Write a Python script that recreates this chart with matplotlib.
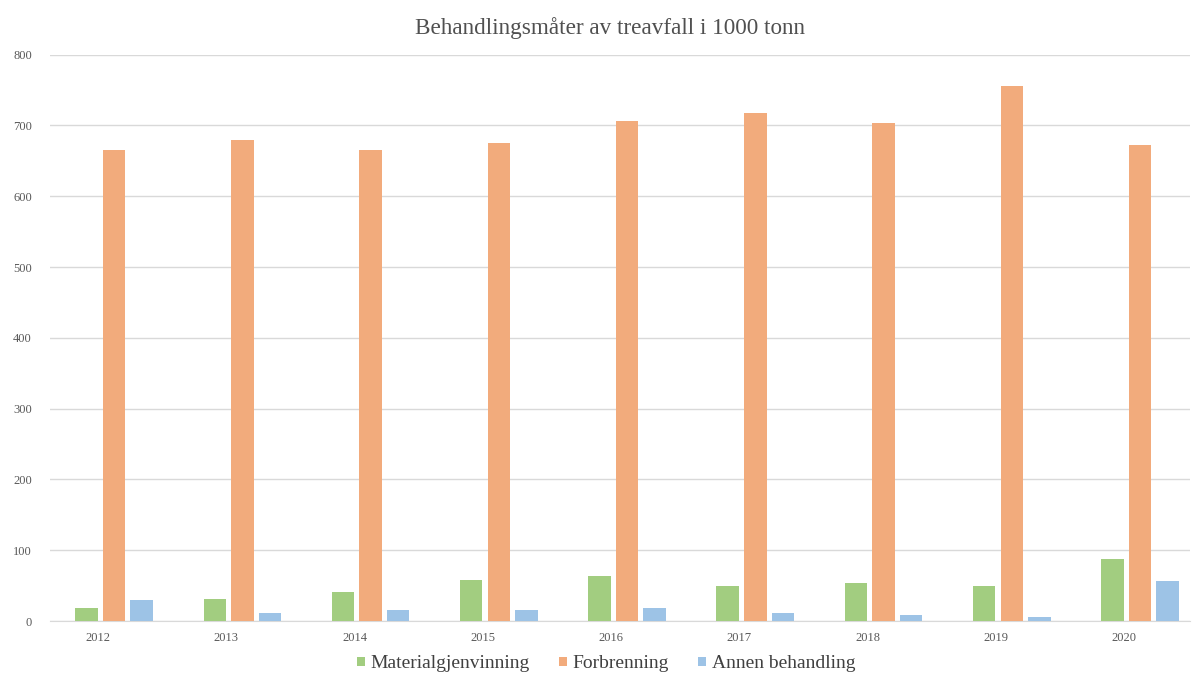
import matplotlib
matplotlib.use("Agg")
import matplotlib.pyplot as plt
import numpy as np

years = ["2012", "2013", "2014", "2015", "2016", "2017", "2018", "2019", "2020"]
materialgjenvinning = [19, 31, 41, 58, 63, 50, 53, 50, 87]
forbrenning = [666, 680, 666, 675, 706, 718, 703, 756, 673]
annen_behandling = [29, 12, 15, 15, 19, 12, 9, 5, 56]
series_names = ["Materialgjenvinning", "Forbrenning", "Annen behandling"]
colors = ["#A2CD80", "#F2AB7C", "#9DC3E6"]
yticks = [0, 100, 200, 300, 400, 500, 600, 700, 800]

plt.rcParams['font.family'] = ['Liberation Serif', 'DejaVu Serif']

fig = plt.figure(figsize=(11.92, 6.75), dpi=100)
ax = fig.add_axes([50/1192, 54/675, (1190-50)/1192, (621-54.7)/675])

x = np.arange(len(years))
w = 0.175
off = 0.215
for i, (vals, name, c) in enumerate(zip([materialgjenvinning, forbrenning, annen_behandling], series_names, colors)):
    ax.bar(x + (i - 1) * off, vals, width=w, color=c, label=name, zorder=3)

ax.set_ylim(0, 800)
ax.set_yticks(yticks)
ax.set_xlim(-0.5, 8.39)
ax.set_xticks(x - 0.125)
ax.set_xticklabels(years)
ax.grid(axis='y', color='#d9d9d9', linewidth=1, zorder=0)
for s in ['top', 'right', 'left']:
    ax.spines[s].set_visible(False)
ax.spines['bottom'].set_color('#d9d9d9')
ax.tick_params(axis='both', length=0, labelsize=9, colors='#595959', pad=8)
ax.tick_params(axis='y', pad=13)

fig.text(610/1192, 1 - 28/675, "Behandlingsmåter av treavfall i 1000 tonn",
         ha='center', va='center', fontsize=16.7, color='#505050')

leg = fig.legend(loc='center', bbox_to_anchor=(606/1192, 1 - 664/675), ncol=3,
                 frameon=False, fontsize=14, handlelength=0.4, handleheight=0.4,
                 handletextpad=0.3, columnspacing=1.5, labelcolor='#404040')

fig.savefig("out.png", dpi=100, facecolor='white')
